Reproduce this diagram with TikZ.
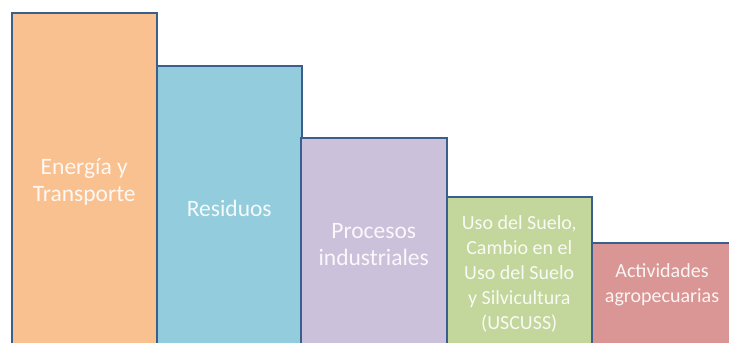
\documentclass[tikz,border=0pt]{standalone}
\usepackage{fontspec}
\setmainfont{Carlito}
\usetikzlibrary{positioning}

\definecolor{borde}{HTML}{3A5F8C}
\definecolor{naranja}{HTML}{F9C090}
\definecolor{celeste}{HTML}{93CDDD}
\definecolor{lila}{HTML}{CCC1DA}
\definecolor{verde}{HTML}{C3D69B}
\definecolor{rosa}{HTML}{D99694}

\tikzset{
  barra/.style={draw=borde, line width=1.5pt, anchor=north west, inner sep=0pt,
    align=center, text=white, text opacity=0.9, font=\fontsize{23.5}{27}\selectfont},
  barrachica/.style={barra, font=\fontsize{20}{25}\selectfont},
  rotulo/.style={align=center, text=white, text opacity=0.9, font=\fontsize{20}{25}\selectfont}
}

\begin{document}
\begin{tikzpicture}[x=1pt, y=-1pt]

    \useasboundingbox (0,0) rectangle (729,343);
    \clip (0,0) rectangle (729,343);

    \node[barra, fill=naranja, minimum width=145pt, minimum height=338pt] (energia) at (11,12) {Energía y\\Transporte};
    \node[barra, fill=celeste, minimum width=145pt, minimum height=285pt] (residuos) at (156,65) {Residuos};
    \node[barra, fill=lila, minimum width=146pt, minimum height=213pt] (procesos) at (300,137) {Procesos\\industriales};
    \node[barrachica, fill=verde, minimum width=145pt, minimum height=154pt] (uscuss) at (446,196) {Uso del Suelo,\\Cambio en el\\Uso del Suelo\\y Silvicultura\\(USCUSS)};
    \node[barra, fill=rosa, minimum width=150pt, minimum height=130pt] (agro) at (591,242) {};
    \node[rotulo] (agrotexto) at (662,285) {Actividades\\agropecuarias};

\end{tikzpicture}
\end{document}
